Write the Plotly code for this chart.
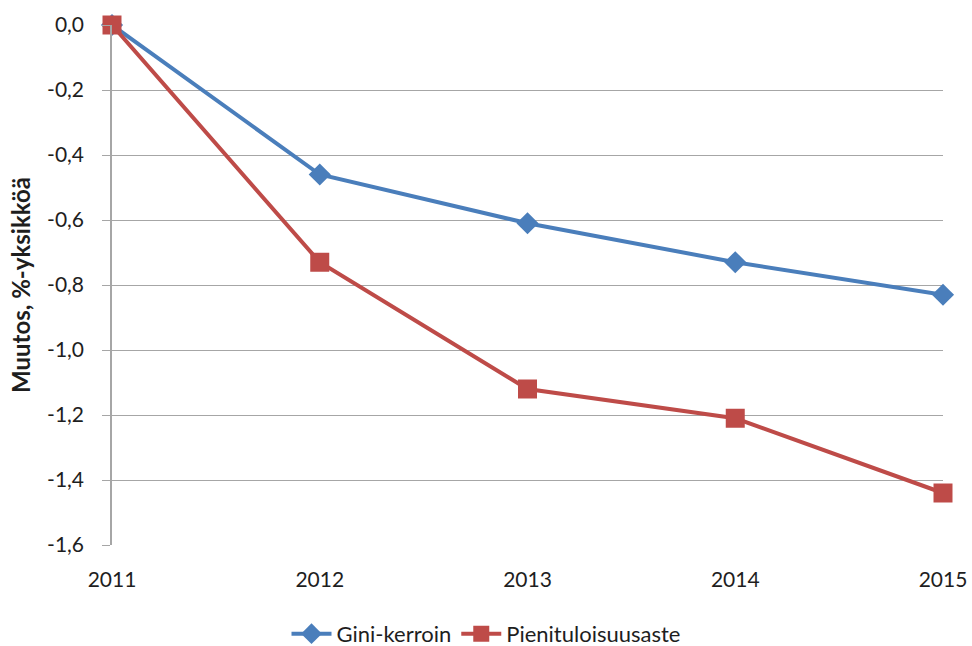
import plotly.graph_objects as go

years = [2011, 2012, 2013, 2014, 2015]
gini = [0.0, -0.46, -0.61, -0.73, -0.83]
pienituloisuus = [0.0, -0.73, -1.12, -1.21, -1.44]
y_ticks = [0.0, -0.2, -0.4, -0.6, -0.8, -1.0, -1.2, -1.4, -1.6]
y_ticktext = ["0,0", "-0,2", "-0,4", "-0,6", "-0,8", "-1,0", "-1,2", "-1,4", "-1,6"]

FONT = "Lato, 'Open Sans', sans-serif"

fig = go.Figure()
fig.add_trace(go.Scatter(
    x=years, y=gini, name="Gini-kerroin", mode="lines+markers",
    line=dict(color="#4A7EBB", width=4),
    marker=dict(symbol="diamond", size=17, color="#4A7EBB"),
    cliponaxis=False,
))
fig.add_trace(go.Scatter(
    x=years, y=pienituloisuus, name="Pienituloisuusaste", mode="lines+markers",
    line=dict(color="#BE4B48", width=4),
    marker=dict(symbol="square", size=19, color="#BE4B48"),
    cliponaxis=False,
))

fig.update_layout(
    width=972, height=646,
    margin=dict(l=112, r=29, t=25, b=101, autoexpand=False),
    plot_bgcolor="white", paper_bgcolor="white",
    font=dict(family=FONT, size=21, color="#1E1E1E"),
    showlegend=True,
    legend=dict(orientation="h", xref="container", x=0.5, xanchor="center",
                y=-0.171, yanchor="middle", font=dict(size=22), itemwidth=40),
    xaxis=dict(range=[2011, 2015], tickvals=years, ticktext=[str(y) for y in years],
               showgrid=False, zeroline=False, showline=False, ticks="",
               ticklabelstandoff=20, automargin=False),
    yaxis=dict(range=[-1.6, 0], tickvals=y_ticks, ticktext=y_ticktext,
               showgrid=True, gridcolor="#A6A6A6", gridwidth=1,
               zeroline=False, showline=True, linecolor="#A6A6A6", linewidth=1.5,
               ticks="outside", ticklen=8, tickcolor="#A6A6A6",
               ticklabelstandoff=14, automargin=False,
               title=dict(text="<b>Muutos, %-yksikköä</b>", font=dict(size=24), standoff=10)),
)

fig.write_html(
    "out.html",
    config={"displayModeBar": False},
    post_script="document.body.style.margin='0';document.body.style.overflow='hidden';",
)
